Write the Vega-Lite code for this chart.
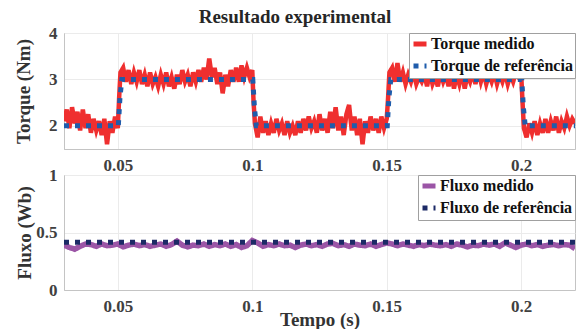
{
  "$schema": "https://vega.github.io/schema/vega-lite/v6.json",
  "padding": {"left": 14, "top": 7, "right": 4, "bottom": 0},
  "title": {"text": "Resultado experimental", "anchor": "middle", "fontSize": 19, "fontWeight": "bold", "color": "#262626", "font": "Liberation Serif", "offset": -3},
  "datasets": {
    "tm": [
      {"t":0.030,"v":2.10},{"t":0.031,"v":2.35},{"t":0.032,"v":1.95},{"t":0.033,"v":2.40},{"t":0.034,"v":2.05},{"t":0.035,"v":2.30},{"t":0.036,"v":1.90},{"t":0.037,"v":2.35},{"t":0.038,"v":1.95},{"t":0.039,"v":2.25},{"t":0.040,"v":1.85},{"t":0.041,"v":2.15},{"t":0.042,"v":1.90},{"t":0.043,"v":2.10},{"t":0.044,"v":1.80},{"t":0.045,"v":2.15},{"t":0.046,"v":1.60},{"t":0.047,"v":2.10},{"t":0.048,"v":1.85},{"t":0.049,"v":2.20},{"t":0.050,"v":1.95},{"t":0.0505,"v":2.6},
      {"t":0.051,"v":3.15},{"t":0.052,"v":3.25},{"t":0.053,"v":2.95},{"t":0.054,"v":3.20},{"t":0.055,"v":2.90},{"t":0.056,"v":3.15},{"t":0.057,"v":2.95},{"t":0.058,"v":3.20},{"t":0.059,"v":2.90},{"t":0.060,"v":3.10},{"t":0.061,"v":2.85},{"t":0.062,"v":3.15},{"t":0.063,"v":2.90},{"t":0.064,"v":3.05},{"t":0.065,"v":2.85},{"t":0.066,"v":3.10},{"t":0.067,"v":2.90},{"t":0.068,"v":3.15},{"t":0.069,"v":2.85},{"t":0.070,"v":3.05},{"t":0.071,"v":2.80},{"t":0.072,"v":3.10},{"t":0.073,"v":2.90},{"t":0.074,"v":3.20},{"t":0.075,"v":2.95},{"t":0.076,"v":3.10},{"t":0.077,"v":2.85},{"t":0.078,"v":3.15},{"t":0.079,"v":2.95},{"t":0.080,"v":3.20},{"t":0.081,"v":2.95},{"t":0.082,"v":3.25},{"t":0.083,"v":3.00},{"t":0.084,"v":3.45},{"t":0.085,"v":3.05},{"t":0.086,"v":3.25},{"t":0.087,"v":2.90},{"t":0.088,"v":3.15},{"t":0.089,"v":2.70},{"t":0.090,"v":3.10},{"t":0.091,"v":2.85},{"t":0.092,"v":3.20},{"t":0.093,"v":2.95},{"t":0.094,"v":3.25},{"t":0.095,"v":2.95},{"t":0.096,"v":3.30},{"t":0.097,"v":3.05},{"t":0.098,"v":3.25},{"t":0.099,"v":3.05},{"t":0.100,"v":3.20},{"t":0.1005,"v":2.5},
      {"t":0.101,"v":2.05},{"t":0.102,"v":1.75},{"t":0.103,"v":2.20},{"t":0.104,"v":1.85},{"t":0.105,"v":2.10},{"t":0.106,"v":1.80},{"t":0.107,"v":2.05},{"t":0.108,"v":1.85},{"t":0.109,"v":2.15},{"t":0.110,"v":1.90},{"t":0.111,"v":2.05},{"t":0.112,"v":1.80},{"t":0.113,"v":2.10},{"t":0.114,"v":1.85},{"t":0.115,"v":2.00},{"t":0.116,"v":1.80},{"t":0.117,"v":2.10},{"t":0.118,"v":1.85},{"t":0.119,"v":2.15},{"t":0.120,"v":1.90},{"t":0.121,"v":2.20},{"t":0.122,"v":1.95},{"t":0.123,"v":2.10},{"t":0.124,"v":1.85},{"t":0.125,"v":2.25},{"t":0.126,"v":1.90},{"t":0.127,"v":2.15},{"t":0.128,"v":1.85},{"t":0.129,"v":2.30},{"t":0.130,"v":1.95},{"t":0.131,"v":2.40},{"t":0.132,"v":1.90},{"t":0.133,"v":2.20},{"t":0.134,"v":1.80},{"t":0.135,"v":2.25},{"t":0.136,"v":2.45},{"t":0.137,"v":1.90},{"t":0.138,"v":2.20},{"t":0.139,"v":1.80},{"t":0.140,"v":2.15},{"t":0.141,"v":1.60},{"t":0.142,"v":2.10},{"t":0.143,"v":1.85},{"t":0.144,"v":2.20},{"t":0.145,"v":1.90},{"t":0.146,"v":2.15},{"t":0.147,"v":1.85},{"t":0.148,"v":2.20},{"t":0.149,"v":1.95},{"t":0.150,"v":2.15},{"t":0.1505,"v":2.6},
      {"t":0.151,"v":3.15},{"t":0.152,"v":3.25},{"t":0.153,"v":2.95},{"t":0.154,"v":3.35},{"t":0.155,"v":2.95},{"t":0.156,"v":3.15},{"t":0.157,"v":2.90},{"t":0.158,"v":3.10},{"t":0.159,"v":2.95},{"t":0.160,"v":3.15},{"t":0.161,"v":2.90},{"t":0.162,"v":3.05},{"t":0.163,"v":2.95},{"t":0.164,"v":3.10},{"t":0.165,"v":2.85},{"t":0.166,"v":3.15},{"t":0.167,"v":2.90},{"t":0.168,"v":3.05},{"t":0.169,"v":2.85},{"t":0.170,"v":3.15},{"t":0.171,"v":2.95},{"t":0.172,"v":3.10},{"t":0.173,"v":2.85},{"t":0.174,"v":3.15},{"t":0.175,"v":2.80},{"t":0.176,"v":3.10},{"t":0.177,"v":2.90},{"t":0.178,"v":3.15},{"t":0.179,"v":2.80},{"t":0.180,"v":3.10},{"t":0.181,"v":2.95},{"t":0.182,"v":3.15},{"t":0.183,"v":2.90},{"t":0.184,"v":3.20},{"t":0.185,"v":2.95},{"t":0.186,"v":3.15},{"t":0.187,"v":2.90},{"t":0.188,"v":3.10},{"t":0.189,"v":2.95},{"t":0.190,"v":3.15},{"t":0.191,"v":2.90},{"t":0.192,"v":3.10},{"t":0.193,"v":2.95},{"t":0.194,"v":3.15},{"t":0.195,"v":2.90},{"t":0.196,"v":3.10},{"t":0.197,"v":2.95},{"t":0.198,"v":3.15},{"t":0.199,"v":3.05},{"t":0.200,"v":3.10},{"t":0.2005,"v":2.5},
      {"t":0.201,"v":1.95},{"t":0.202,"v":1.75},{"t":0.203,"v":2.05},{"t":0.204,"v":1.85},{"t":0.205,"v":2.10},{"t":0.206,"v":1.80},{"t":0.207,"v":2.05},{"t":0.208,"v":1.85},{"t":0.209,"v":2.15},{"t":0.210,"v":1.85},{"t":0.211,"v":2.10},{"t":0.212,"v":1.90},{"t":0.213,"v":2.20},{"t":0.214,"v":1.85},{"t":0.215,"v":2.10},{"t":0.216,"v":1.95},{"t":0.217,"v":2.20},{"t":0.218,"v":2.00},{"t":0.219,"v":2.15},{"t":0.220,"v":2.05}
    ],
    "tr": [
      {"t":0.030,"v":2},{"t":0.0502,"v":2},{"t":0.0508,"v":2.6},{"t":0.0515,"v":3},{"t":0.1002,"v":3},{"t":0.1008,"v":2.4},{"t":0.1015,"v":2},{"t":0.1502,"v":2},{"t":0.1508,"v":2.6},{"t":0.1515,"v":3},{"t":0.2002,"v":3},{"t":0.2008,"v":2.4},{"t":0.2015,"v":2},{"t":0.220,"v":2}
    ],
    "fm": [
      {"t":0.030,"v":0.39},{"t":0.032,"v":0.37},{"t":0.034,"v":0.355},{"t":0.036,"v":0.38},{"t":0.038,"v":0.40},{"t":0.040,"v":0.395},{"t":0.042,"v":0.38},{"t":0.044,"v":0.40},{"t":0.046,"v":0.385},{"t":0.048,"v":0.39},{"t":0.050,"v":0.40},{"t":0.052,"v":0.375},{"t":0.054,"v":0.39},{"t":0.056,"v":0.40},{"t":0.058,"v":0.385},{"t":0.060,"v":0.395},{"t":0.062,"v":0.38},{"t":0.064,"v":0.39},{"t":0.066,"v":0.40},{"t":0.068,"v":0.38},{"t":0.070,"v":0.395},{"t":0.072,"v":0.425},{"t":0.074,"v":0.39},{"t":0.076,"v":0.375},{"t":0.078,"v":0.39},{"t":0.080,"v":0.385},{"t":0.082,"v":0.40},{"t":0.084,"v":0.38},{"t":0.086,"v":0.395},{"t":0.088,"v":0.385},{"t":0.090,"v":0.40},{"t":0.092,"v":0.38},{"t":0.094,"v":0.395},{"t":0.096,"v":0.37},{"t":0.098,"v":0.385},{"t":0.100,"v":0.43},{"t":0.102,"v":0.41},{"t":0.104,"v":0.38},{"t":0.106,"v":0.395},{"t":0.108,"v":0.385},{"t":0.110,"v":0.40},{"t":0.112,"v":0.385},{"t":0.114,"v":0.39},{"t":0.116,"v":0.37},{"t":0.118,"v":0.39},{"t":0.120,"v":0.40},{"t":0.122,"v":0.385},{"t":0.124,"v":0.395},{"t":0.126,"v":0.38},{"t":0.128,"v":0.40},{"t":0.130,"v":0.405},{"t":0.132,"v":0.385},{"t":0.134,"v":0.395},{"t":0.136,"v":0.38},{"t":0.138,"v":0.40},{"t":0.140,"v":0.39},{"t":0.142,"v":0.385},{"t":0.144,"v":0.40},{"t":0.146,"v":0.38},{"t":0.148,"v":0.395},{"t":0.150,"v":0.41},{"t":0.152,"v":0.40},{"t":0.154,"v":0.385},{"t":0.156,"v":0.40},{"t":0.158,"v":0.39},{"t":0.160,"v":0.38},{"t":0.162,"v":0.395},{"t":0.164,"v":0.385},{"t":0.166,"v":0.40},{"t":0.168,"v":0.39},{"t":0.170,"v":0.385},{"t":0.172,"v":0.395},{"t":0.174,"v":0.38},{"t":0.176,"v":0.40},{"t":0.178,"v":0.39},{"t":0.180,"v":0.375},{"t":0.182,"v":0.39},{"t":0.184,"v":0.385},{"t":0.186,"v":0.40},{"t":0.188,"v":0.39},{"t":0.190,"v":0.40},{"t":0.192,"v":0.38},{"t":0.194,"v":0.41},{"t":0.196,"v":0.39},{"t":0.198,"v":0.37},{"t":0.200,"v":0.39},{"t":0.202,"v":0.40},{"t":0.204,"v":0.385},{"t":0.206,"v":0.395},{"t":0.208,"v":0.38},{"t":0.210,"v":0.39},{"t":0.212,"v":0.395},{"t":0.214,"v":0.385},{"t":0.216,"v":0.395},{"t":0.218,"v":0.39},{"t":0.220,"v":0.36}
    ],
    "fr": [
      {"t":0.030,"v":0.415},{"t":0.220,"v":0.415}
    ]
  },
  "vconcat": [
    {
      "width": 511,
      "height": 116,
      "layer": [
        {
          "data": {"name": "tm"},
          "transform": [{"calculate": "'Torque medido'", "as": "s"}],
          "mark": {"type": "line", "strokeWidth": 4.5, "clip": true},
          "encoding": {
            "x": {"field": "t", "type": "quantitative", "scale": {"domain": [0.03, 0.22], "nice": false, "zero": false}, "axis": {"values": [0.05, 0.1, 0.15, 0.2], "format": "~g", "title": null}},
            "y": {"field": "v", "type": "quantitative", "scale": {"domain": [1.5, 4], "nice": false, "zero": false}, "axis": {"values": [2, 3, 4], "title": "Torque (Nm)", "titlePadding": 15}},
            "color": {"field": "s", "type": "nominal", "scale": {"domain": ["Torque medido", "Torque de referência"], "range": ["#ef2f2f", "#1f5cab"]}, "legend": {"title": null}},
            "strokeDash": {"field": "s", "type": "nominal", "scale": {"domain": ["Torque medido", "Torque de referência"], "range": [[1, 0], [5, 6]]}, "legend": {"title": null}}
          }
        },
        {
          "data": {"name": "tr"},
          "transform": [{"calculate": "'Torque de referência'", "as": "s"}],
          "mark": {"type": "line", "strokeWidth": 5, "clip": true},
          "encoding": {
            "x": {"field": "t", "type": "quantitative"},
            "y": {"field": "v", "type": "quantitative"},
            "color": {"field": "s", "type": "nominal"},
            "strokeDash": {"field": "s", "type": "nominal"}
          }
        }
      ]
    },
    {
      "width": 511,
      "height": 115,
      "layer": [
        {
          "data": {"name": "fm"},
          "transform": [{"calculate": "'Fluxo medido'", "as": "s"}],
          "mark": {"type": "line", "strokeWidth": 5.5, "clip": true},
          "encoding": {
            "x": {"field": "t", "type": "quantitative", "scale": {"domain": [0.03, 0.22], "nice": false, "zero": false}, "axis": {"values": [0.05, 0.1, 0.15, 0.2], "format": "~g", "title": "Tempo (s)", "titlePadding": -4}},
            "y": {"field": "v", "type": "quantitative", "scale": {"domain": [0, 1], "nice": false}, "axis": {"values": [0, 0.5, 1], "format": "~g", "title": "Fluxo (Wb)", "titlePadding": 1}},
            "color": {"field": "s", "type": "nominal", "scale": {"domain": ["Fluxo medido", "Fluxo de referência"], "range": ["#9b55a6", "#1c2a66"]}, "legend": {"title": null}},
            "strokeDash": {"field": "s", "type": "nominal", "scale": {"domain": ["Fluxo medido", "Fluxo de referência"], "range": [[1, 0], [5, 6]]}, "legend": {"title": null}}
          }
        },
        {
          "data": {"name": "fr"},
          "transform": [{"calculate": "'Fluxo de referência'", "as": "s"}],
          "mark": {"type": "line", "strokeWidth": 5, "clip": true},
          "encoding": {
            "x": {"field": "t", "type": "quantitative"},
            "y": {"field": "v", "type": "quantitative"},
            "color": {"field": "s", "type": "nominal"},
            "strokeDash": {"field": "s", "type": "nominal"}
          }
        }
      ]
    }
  ],
  "bounds": "flush",
  "spacing": 26,
  "resolve": {"scale": {"color": "independent", "strokeDash": "independent"}, "legend": {"color": "independent", "strokeDash": "independent"}},
  "config": {
    "font": "Liberation Serif",
    "view": {"stroke": "#c4c4c4", "strokeWidth": 1},
    "axis": {
      "labelFont": "Liberation Serif", "labelFontWeight": "bold", "labelFontSize": 17, "labelColor": "#404040", "labelPadding": 7,
      "titleFont": "Liberation Serif", "titleFontWeight": "bold", "titleFontSize": 19, "titleColor": "#333333",
      "gridColor": "#ebebeb", "domainColor": "#c4c4c4", "ticks": false
    },
    "axisX": {"labelPadding": 8},
    "legend": {
      "orient": "top-right", "offset": 0, "fillColor": "white", "strokeColor": "#a0a0a0", "padding": 2,
      "labelFont": "Liberation Serif", "labelFontSize": 16, "labelFontWeight": "bold", "labelColor": "#111111", "labelOffset": 2,
      "symbolType": "stroke", "symbolStrokeWidth": 5, "symbolSize": 169, "rowPadding": 2
    }
  }
}
